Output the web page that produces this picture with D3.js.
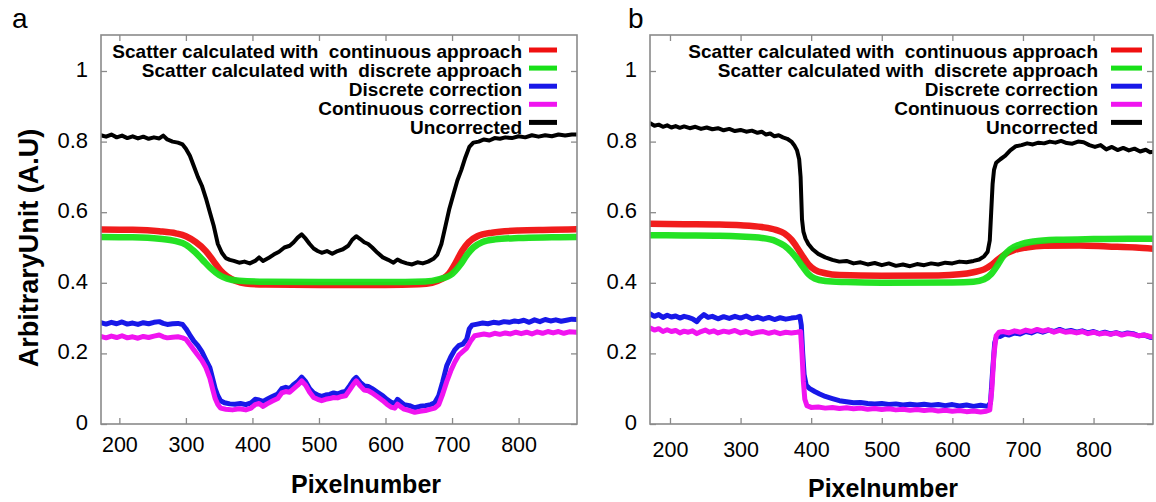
<!DOCTYPE html>
<html><head><meta charset="utf-8">
<script src="https://cdn.jsdelivr.net/npm/d3@7/dist/d3.min.js"></script>
<style>
body{margin:0;background:#fff;}
svg text{font-family:"Liberation Sans",Arial,sans-serif;fill:#000;}
</style></head>
<body><svg id="chart" width="1156" height="502"></svg>
<script>
// ---------------- data (pixel number, arbitrary unit) ----------------
const xTicks = [200,300,400,500,600,700,800];
const yTicks = [0,0.2,0.4,0.6,0.8,1];
const yTickLabels = ["0","0.2","0.4","0.6","0.8","1"];
const legendLabels = ["Scatter calculated with  continuous approach","Scatter calculated with  discrete approach","Discrete correction","Continuous correction","Uncorrected"];
const seriesColors = ["#f01010","#18e018","#1818e8","#f014f0","#000000"];

// panel a
const aRed = [[172,0.551],[220,0.55],[260,0.546],[285,0.54],[300,0.532],[315,0.515],[330,0.49],[342,0.46],[352,0.435],[362,0.418],[375,0.405],[390,0.398],[420,0.395],[500,0.394],[600,0.394],[650,0.396],[670,0.40],[684,0.41],[695,0.425],[705,0.455],[715,0.49],[725,0.515],[738,0.532],[760,0.542],[800,0.548],[850,0.55],[887,0.552]];
const aGreen = [[172,0.53],[220,0.529],[260,0.525],[285,0.518],[300,0.508],[312,0.49],[325,0.465],[338,0.44],[350,0.422],[362,0.412],[380,0.406],[420,0.403],[500,0.402],[600,0.402],[660,0.404],[680,0.41],[700,0.425],[712,0.45],[722,0.478],[732,0.5],[745,0.515],[765,0.523],[800,0.527],[850,0.529],[887,0.53]];
const aBlue = [[172,0.287],[180,0.283],[188,0.288],[196,0.284],[204,0.289],[212,0.283],[220,0.286],[228,0.282],[236,0.287],[244,0.284],[252,0.288],[260,0.29],[266,0.285],[272,0.282],[280,0.284],[288,0.285],[295,0.282],[300,0.27],[306,0.252],[312,0.235],[318,0.222],[324,0.205],[330,0.182],[336,0.16],[340,0.13],[344,0.1],[348,0.08],[352,0.066],[358,0.06],[366,0.057],[374,0.056],[382,0.058],[390,0.055],[398,0.06],[404,0.07],[410,0.068],[416,0.064],[422,0.07],[430,0.078],[438,0.085],[444,0.1],[450,0.104],[456,0.1],[462,0.112],[468,0.12],[474,0.133],[480,0.12],[486,0.1],[492,0.088],[498,0.082],[504,0.078],[510,0.082],[516,0.084],[522,0.088],[528,0.085],[534,0.09],[540,0.092],[546,0.108],[552,0.125],[556,0.132],[562,0.118],[568,0.108],[574,0.106],[580,0.1],[588,0.09],[596,0.08],[602,0.07],[608,0.062],[614,0.058],[618,0.07],[622,0.064],[628,0.055],[636,0.052],[644,0.046],[652,0.05],[660,0.052],[668,0.055],[674,0.06],[680,0.08],[686,0.12],[692,0.165],[698,0.19],[704,0.21],[710,0.222],[716,0.226],[722,0.24],[726,0.27],[730,0.28],[738,0.283],[746,0.286],[754,0.284],[762,0.288],[770,0.286],[778,0.29],[786,0.288],[794,0.292],[800,0.29],[808,0.294],[816,0.288],[824,0.295],[832,0.29],[840,0.296],[848,0.292],[856,0.295],[864,0.291],[872,0.294],[880,0.297],[887,0.296]];
const aMagenta = [[172,0.248],[180,0.244],[188,0.249],[196,0.245],[204,0.25],[212,0.244],[220,0.247],[228,0.243],[236,0.248],[244,0.245],[252,0.249],[260,0.252],[266,0.247],[272,0.244],[280,0.246],[288,0.247],[295,0.244],[300,0.24],[306,0.225],[312,0.21],[318,0.195],[324,0.18],[330,0.16],[336,0.13],[340,0.1],[344,0.072],[348,0.055],[352,0.045],[360,0.042],[370,0.04],[380,0.043],[390,0.04],[398,0.045],[404,0.055],[410,0.058],[416,0.05],[422,0.057],[430,0.065],[438,0.072],[444,0.088],[450,0.092],[456,0.09],[462,0.1],[468,0.11],[474,0.122],[480,0.11],[486,0.09],[492,0.075],[498,0.07],[504,0.066],[510,0.07],[516,0.072],[522,0.075],[528,0.074],[534,0.078],[540,0.08],[546,0.096],[552,0.113],[556,0.122],[562,0.108],[568,0.096],[574,0.094],[580,0.088],[588,0.077],[596,0.066],[602,0.056],[608,0.048],[614,0.045],[618,0.056],[622,0.05],[628,0.042],[636,0.038],[644,0.033],[652,0.036],[660,0.038],[668,0.042],[674,0.045],[680,0.055],[686,0.085],[692,0.12],[698,0.15],[704,0.175],[710,0.195],[716,0.205],[722,0.215],[728,0.235],[734,0.25],[740,0.252],[748,0.255],[756,0.252],[764,0.257],[772,0.254],[780,0.258],[788,0.255],[796,0.26],[804,0.256],[812,0.26],[820,0.255],[828,0.261],[836,0.257],[844,0.262],[852,0.258],[860,0.262],[868,0.257],[876,0.261],[887,0.26]];
const aBlack = [[172,0.818],[180,0.814],[188,0.82],[196,0.812],[204,0.817],[212,0.81],[220,0.815],[228,0.809],[236,0.814],[244,0.808],[252,0.812],[260,0.809],[266,0.817],[272,0.806],[280,0.80],[288,0.797],[295,0.792],[300,0.78],[306,0.76],[312,0.73],[318,0.70],[324,0.675],[330,0.64],[336,0.6],[342,0.56],[348,0.51],[354,0.485],[360,0.47],[366,0.465],[372,0.462],[380,0.457],[388,0.46],[396,0.455],[404,0.462],[410,0.472],[416,0.462],[424,0.47],[432,0.48],[440,0.488],[448,0.50],[456,0.505],[462,0.515],[468,0.528],[474,0.537],[480,0.525],[486,0.51],[492,0.497],[498,0.49],[504,0.485],[512,0.49],[520,0.482],[528,0.49],[536,0.495],[544,0.505],[550,0.522],[556,0.532],[562,0.524],[568,0.515],[574,0.51],[580,0.50],[588,0.485],[596,0.472],[604,0.465],[612,0.457],[618,0.466],[624,0.46],[632,0.455],[640,0.452],[648,0.458],[656,0.455],[664,0.46],[672,0.468],[678,0.48],[684,0.51],[690,0.56],[696,0.61],[702,0.65],[708,0.69],[714,0.72],[720,0.755],[726,0.785],[732,0.797],[740,0.80],[748,0.806],[756,0.803],[764,0.81],[772,0.808],[780,0.812],[790,0.81],[800,0.815],[810,0.812],[820,0.818],[830,0.814],[840,0.818],[850,0.815],[860,0.82],[870,0.817],[880,0.82],[887,0.82]];

// panel b
const bRed = [[172,0.567],[220,0.566],[270,0.565],[300,0.563],[330,0.558],[350,0.55],[362,0.54],[372,0.522],[380,0.5],[388,0.475],[396,0.452],[405,0.437],[420,0.427],[440,0.422],[500,0.42],[580,0.421],[610,0.424],[630,0.43],[645,0.438],[655,0.45],[664,0.465],[674,0.48],[688,0.493],[705,0.5],[730,0.505],[780,0.506],[820,0.503],[860,0.5],[887,0.496]];
const bGreen = [[172,0.535],[220,0.534],[270,0.533],[300,0.531],[330,0.527],[350,0.518],[362,0.505],[372,0.487],[380,0.468],[388,0.446],[396,0.425],[405,0.412],[420,0.405],[450,0.402],[500,0.4],[600,0.401],[630,0.403],[645,0.41],[655,0.425],[664,0.45],[672,0.475],[682,0.495],[695,0.508],[715,0.517],[750,0.522],[800,0.524],[850,0.525],[887,0.525]];
const bBlue = [[172,0.312],[178,0.305],[184,0.31],[190,0.302],[196,0.308],[202,0.303],[208,0.306],[214,0.3],[220,0.305],[226,0.302],[232,0.298],[238,0.29],[242,0.3],[248,0.31],[254,0.302],[260,0.305],[268,0.298],[276,0.304],[284,0.299],[292,0.305],[300,0.3],[308,0.306],[316,0.298],[324,0.303],[332,0.297],[340,0.302],[348,0.296],[356,0.301],[364,0.297],[372,0.3],[380,0.302],[384,0.305],[386,0.28],[388,0.2],[390,0.14],[393,0.11],[398,0.1],[405,0.092],[412,0.085],[420,0.078],[430,0.072],[440,0.066],[450,0.063],[460,0.06],[470,0.061],[480,0.058],[490,0.057],[500,0.058],[510,0.055],[520,0.057],[530,0.054],[540,0.056],[550,0.054],[560,0.056],[570,0.053],[580,0.055],[590,0.052],[600,0.055],[610,0.051],[620,0.054],[630,0.05],[640,0.053],[650,0.05],[654,0.06],[657,0.15],[660,0.23],[663,0.25],[668,0.248],[674,0.255],[680,0.252],[688,0.258],[696,0.255],[704,0.262],[712,0.258],[720,0.265],[728,0.26],[736,0.266],[744,0.262],[752,0.268],[760,0.262],[768,0.265],[776,0.26],[784,0.264],[792,0.258],[800,0.262],[808,0.256],[816,0.26],[824,0.255],[832,0.259],[840,0.254],[848,0.258],[856,0.256],[864,0.25],[872,0.252],[880,0.246],[887,0.244]];
const bMagenta = [[172,0.272],[178,0.266],[184,0.27],[190,0.262],[196,0.267],[202,0.262],[208,0.265],[214,0.258],[220,0.263],[226,0.26],[232,0.264],[238,0.256],[244,0.262],[250,0.266],[256,0.26],[262,0.264],[268,0.258],[276,0.263],[284,0.26],[292,0.265],[300,0.258],[308,0.262],[316,0.256],[324,0.26],[332,0.262],[340,0.257],[348,0.261],[356,0.256],[364,0.26],[372,0.258],[380,0.26],[385,0.262],[387,0.2],[389,0.12],[391,0.07],[394,0.052],[400,0.047],[410,0.048],[420,0.045],[430,0.047],[440,0.044],[450,0.046],[460,0.043],[470,0.045],[480,0.042],[490,0.044],[500,0.041],[510,0.043],[520,0.04],[530,0.042],[540,0.039],[550,0.041],[560,0.038],[570,0.04],[580,0.037],[590,0.039],[600,0.036],[610,0.038],[620,0.035],[630,0.037],[640,0.034],[648,0.036],[653,0.04],[656,0.1],[659,0.2],[662,0.25],[666,0.26],[672,0.262],[680,0.258],[688,0.264],[696,0.26],[704,0.266],[712,0.262],[720,0.268],[728,0.263],[736,0.267],[744,0.26],[752,0.265],[760,0.26],[768,0.262],[776,0.258],[784,0.262],[792,0.256],[800,0.26],[808,0.255],[816,0.258],[824,0.254],[832,0.258],[840,0.252],[848,0.256],[856,0.254],[864,0.25],[872,0.252],[880,0.248],[887,0.246]];
const bBlack = [[172,0.852],[178,0.845],[184,0.848],[190,0.842],[196,0.846],[202,0.84],[208,0.844],[214,0.839],[220,0.843],[228,0.838],[236,0.842],[244,0.836],[252,0.84],[260,0.835],[268,0.838],[276,0.832],[284,0.836],[292,0.83],[300,0.833],[308,0.828],[316,0.831],[324,0.825],[330,0.828],[336,0.82],[342,0.823],[348,0.815],[354,0.818],[360,0.812],[366,0.808],[372,0.8],[376,0.79],[380,0.775],[383,0.75],[385,0.7],[386,0.64],[387,0.58],[389,0.545],[392,0.525],[396,0.51],[402,0.495],[410,0.482],[420,0.472],[430,0.465],[440,0.46],[450,0.462],[460,0.455],[470,0.458],[480,0.452],[490,0.456],[500,0.45],[510,0.455],[520,0.448],[530,0.452],[540,0.447],[550,0.453],[560,0.45],[570,0.455],[580,0.452],[590,0.457],[600,0.455],[610,0.46],[620,0.458],[630,0.462],[638,0.466],[645,0.475],[650,0.488],[653,0.52],[655,0.6],[657,0.68],[659,0.72],[662,0.74],[668,0.75],[675,0.76],[682,0.775],[690,0.787],[698,0.79],[706,0.795],[714,0.792],[722,0.797],[730,0.795],[738,0.8],[746,0.797],[754,0.802],[762,0.796],[770,0.794],[778,0.8],[786,0.798],[794,0.79],[802,0.785],[810,0.79],[818,0.778],[826,0.785],[834,0.776],[842,0.782],[850,0.775],[858,0.78],[866,0.772],[874,0.777],[880,0.77],[887,0.772]];

// ---------------- drawing ----------------
const svg = d3.select("#chart");

const panels = [
  {id:"a", left:101, right:577, top:35, bottom:424, dom:[172.4,887.8], series:[aRed,aGreen,aBlue,aMagenta,aBlack],
   label:{x:12,y:28}, xTickPad:13, xTitle:{x:366,y:493}, legendEnd:522, lineX:[529,557], yLabel:true},
  {id:"b", left:650, right:1153, top:35, bottom:424, dom:[171.7,884.2], series:[bRed,bGreen,bBlue,bMagenta,bBlack],
   label:{x:628,y:28}, xTickPad:18, xTitle:{x:883,y:497}, legendEnd:1098, lineX:[1111,1142], yLabel:false}
];
const widths = [6.5,6.5,5,5,4];

panels.forEach(p => {
  const x = d3.scaleLinear().domain(p.dom).range([p.left,p.right]);
  const y = d3.scaleLinear().domain([0,1.1]).range([p.bottom,p.bottom-353*1.1]);
  const g = svg.append("g");
  const clipId = "clip"+p.id;
  svg.append("clipPath").attr("id",clipId).append("rect")
    .attr("x",p.left).attr("y",p.top).attr("width",p.right-p.left).attr("height",p.bottom-p.top);

  // axes with inward ticks
  const tickStyle = sel => { sel.select(".domain").remove(); sel.selectAll(".tick line").attr("stroke","#8a8a8a").attr("stroke-width",1.3); };
  g.append("g").attr("transform",`translate(0,${p.bottom})`)
    .call(d3.axisBottom(x).tickValues(xTicks).tickSize(-6).tickPadding(p.xTickPad))
    .call(tickStyle)
    .selectAll("text").attr("font-size",21.5).attr("font-family","Liberation Sans, Arial, sans-serif").attr("fill","#000");
  g.append("g").attr("transform",`translate(0,${p.top})`)
    .call(d3.axisTop(x).tickValues(xTicks).tickSize(-6).tickFormat(""))
    .call(tickStyle);
  g.append("g").attr("transform",`translate(${p.left},0)`)
    .call(d3.axisLeft(y).tickValues(yTicks).tickSize(-6).tickPadding(13).tickFormat((d,i)=>yTickLabels[i]))
    .call(tickStyle)
    .selectAll("text").attr("font-size",22).attr("dy","0.25em").attr("font-family","Liberation Sans, Arial, sans-serif").attr("fill","#000");
  g.append("g").attr("transform",`translate(${p.right},0)`)
    .call(d3.axisRight(y).tickValues(yTicks).tickSize(-6).tickFormat(""))
    .call(tickStyle);

  // lines
  const lines = g.append("g").attr("clip-path",`url(#${clipId})`);
  p.series.forEach((s,i) => {
    const smooth = i<2;
    const line = d3.line().x(d=>x(d[0])).y(d=>y(d[1]))
      .curve(smooth ? d3.curveMonotoneX : d3.curveLinear);
    lines.append("path").datum(s).attr("d",line).attr("fill","none")
      .attr("stroke",seriesColors[i]).attr("stroke-width",widths[i])
      .attr("stroke-linejoin","round").attr("stroke-linecap","round")
      .attr("opacity", smooth?0.95:1);
  });

  // frame
  g.append("rect").attr("x",p.left).attr("y",p.top).attr("width",p.right-p.left).attr("height",p.bottom-p.top)
    .attr("fill","none").attr("stroke","#8a8a8a").attr("stroke-width",1.6);

  // legend
  const lg = g.append("g");
  legendLabels.forEach((t,i) => {
    lg.append("text").attr("x",p.legendEnd).attr("y",58+i*18.9).attr("text-anchor","end")
      .attr("font-size",19).attr("font-weight","bold").style("white-space","pre").text(t);
    lg.append("line").attr("x1",p.lineX[0]).attr("x2",p.lineX[1])
      .attr("y1",50+i*18.1).attr("y2",50+i*18.1)
      .attr("stroke",seriesColors[i]).attr("stroke-width",5);
  });

  // titles
  g.append("text").attr("x",p.xTitle.x).attr("y",p.xTitle.y).attr("text-anchor","middle")
    .attr("font-size",25).attr("font-weight","bold").text("Pixelnumber");
  g.append("text").attr("x",p.label.x).attr("y",p.label.y).attr("font-size",28).text(p.id);
  if (p.yLabel) {
    g.append("text").attr("transform","translate(38,248) rotate(-90)").attr("text-anchor","middle")
      .attr("font-size",27).attr("font-weight","bold").text("ArbitraryUnit (A.U)");
  }
});
</script></body></html>
